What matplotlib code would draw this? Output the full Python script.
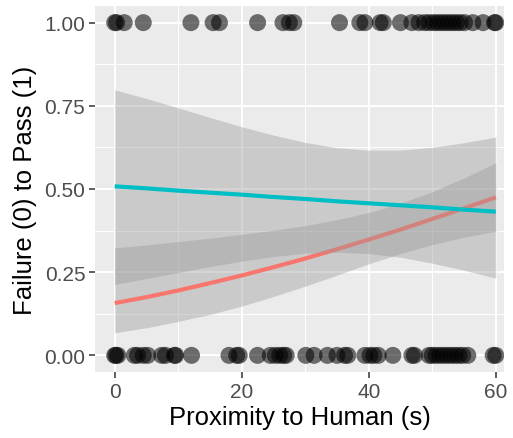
import matplotlib
matplotlib.use("Agg")
import matplotlib.pyplot as plt
from matplotlib.ticker import MultipleLocator

plt.rcParams['font.family'] = ['Liberation Sans', 'DejaVu Sans']

# Observations (proximity in s), outcome 1 = pass, 0 = failure
pass_x = [0, 0.3, 1.5, 4.5, 12, 15.5, 16.5, 22.5, 26.5, 27.5, 28.2,
          35.4, 38.6, 39.4, 41.8, 42.3, 45, 46.8, 47.9,
          48.8, 49.5, 50.2, 50.8, 51.4, 52, 52.6, 53.2, 53.8, 54.4, 55.1,
          56.4, 58, 59.8, 60]
fail_x = [0, 0.2, 0.5, 3.1, 3.6, 4.5, 5.2, 7.4, 8, 9.4, 9.6, 12.1,
          18, 19.2, 19.6, 22.5, 24.5, 25.3, 26, 26.6, 27,
          30.1, 31.4, 33.5, 35, 36.2, 36.7, 39.4, 40.2, 40.8, 41.5, 43.8,
          46.8, 47.2, 49.5, 50, 50.6, 51.2, 51.8, 52.4, 53, 53.6, 54.2,
          54.8, 55.6, 59.6, 60]

# Fitted curves
fit_x = [0, 5, 10, 15, 20, 25, 30, 35, 40, 45, 50, 55, 60]
red_fit = [0.157, 0.175, 0.195, 0.217, 0.240, 0.265, 0.291, 0.319, 0.348, 0.378, 0.410, 0.442, 0.475]
red_lo = [0.068, 0.083, 0.102, 0.123, 0.148, 0.177, 0.208, 0.241, 0.275, 0.306, 0.333, 0.355, 0.373]
red_hi = [0.323, 0.332, 0.342, 0.352, 0.364, 0.376, 0.390, 0.408, 0.429, 0.457, 0.492, 0.533, 0.579]
cyan_fit = [0.508, 0.502, 0.495, 0.489, 0.483, 0.476, 0.470, 0.463, 0.457, 0.451, 0.445, 0.438, 0.432]
cyan_lo = [0.213, 0.231, 0.249, 0.267, 0.283, 0.297, 0.307, 0.310, 0.306, 0.295, 0.277, 0.256, 0.232]
cyan_hi = [0.798, 0.772, 0.744, 0.715, 0.687, 0.662, 0.640, 0.624, 0.617, 0.617, 0.625, 0.639, 0.656]

x_ticks = [0, 20, 40, 60]
y_ticks = [0.0, 0.25, 0.5, 0.75, 1.0]
y_tick_labels = ["0.00", "0.25", "0.50", "0.75", "1.00"]

fig = plt.figure(figsize=(5.13, 4.39), dpi=100)
ax = fig.add_axes([95/513, 66/439, 409/513, 366/439])
ax.set_facecolor('#EBEBEB')

ax.scatter(pass_x, [1]*len(pass_x), s=150, color='black', alpha=0.55, edgecolors='none', zorder=3)
ax.scatter(fail_x, [0]*len(fail_x), s=150, color='black', alpha=0.55, edgecolors='none', zorder=3)

ax.fill_between(fit_x, red_lo, red_hi, color='#999999', alpha=0.4, linewidth=0, zorder=4)
ax.plot(fit_x, red_fit, color='#F8766D', lw=3.0, zorder=5, solid_capstyle='butt')
ax.fill_between(fit_x, cyan_lo, cyan_hi, color='#999999', alpha=0.4, linewidth=0, zorder=6)
ax.plot(fit_x, cyan_fit, color='#00BFC4', lw=3.0, zorder=7, solid_capstyle='butt')

ax.set_xlim(-3.1, 61.3)
ax.set_ylim(-0.05, 1.05)
ax.set_xticks(x_ticks)
ax.set_yticks(y_ticks)
ax.set_yticklabels(y_tick_labels)
ax.xaxis.set_minor_locator(MultipleLocator(10))
ax.yaxis.set_minor_locator(MultipleLocator(0.125))
ax.grid(which='major', color='white', lw=1.4, zorder=0)
ax.grid(which='minor', color='white', lw=0.7, zorder=0)
ax.set_axisbelow(True)
for s in ax.spines.values():
    s.set_visible(False)
ax.tick_params(which='major', length=4, width=1.1, color='#333333', labelcolor='#4D4D4D',
               labelsize=15, pad=3)
ax.tick_params(which='minor', length=0)

ax.set_xlabel('Proximity to Human (s)', fontsize=18.5, color='black', labelpad=3)
ax.set_ylabel('Failure (0) to Pass (1)', fontsize=18.5, color='black', labelpad=5)

fig.savefig('out.png', dpi=100)
